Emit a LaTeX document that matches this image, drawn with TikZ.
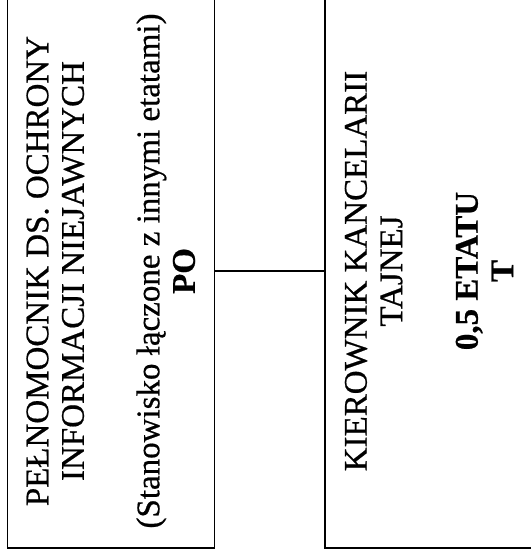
\documentclass[tikz,border=0pt]{standalone}
\usepackage{fontspec}
\setmainfont{Liberation Serif}[FakeBold=0.6]
\begin{document}
\begin{tikzpicture}[x=1pt, y=-1pt,
    unitbox/.style={draw, line width=1.2pt, rotate=90, align=center,
      inner sep=0pt, minimum width=554pt, minimum height=207pt,
      font=\fontsize{33}{35.5}\selectfont}]
  % Page frame of the scan
  \useasboundingbox (0,0) rectangle (531,558);

  % The two posts, standing on their side
  \node [unitbox] (po) at (110.75,271) {PEŁNOMOCNIK DS. OCHRONY\\
    INFORMACJI NIEJAWNYCH\\[40pt]
    (Stanowisko łączone z innymi etatami)\\
    \textbf{PO}};
  \node [unitbox, minimum height=208pt] (kkt) at (429,271) {KIEROWNIK KANCELARII\\
    TAJNEJ\\[40pt]
    \textbf{0,5 ETATU}\\
    \textbf{T}};

  % Link between them
  \draw [line width=1.2pt] (po.south) -- (kkt.north);
\end{tikzpicture}
\end{document}
